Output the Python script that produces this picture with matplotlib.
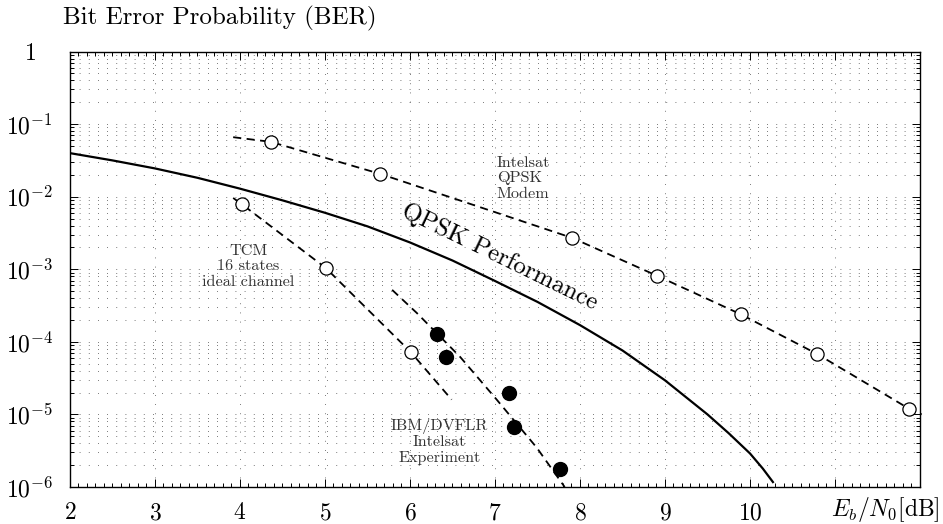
import matplotlib
matplotlib.use('Agg')
import matplotlib.pyplot as plt
from matplotlib.ticker import MultipleLocator, LogLocator, NullFormatter

plt.rcParams['font.family'] = 'cmr10'
plt.rcParams['mathtext.fontset'] = 'cm'
plt.rcParams['axes.formatter.use_mathtext'] = True
plt.rcParams['axes.unicode_minus'] = False

# QPSK performance curve
qpsk_x = [2.0, 2.5, 3.0, 3.5, 4.0, 4.5, 5.0, 5.5, 6.0, 6.5, 7.0, 7.5, 8.0, 8.5,
          9.0, 9.5, 9.75, 10.0, 10.15, 10.27]
qpsk_ber = [0.0398, 0.0316, 0.0245, 0.0182, 0.0129, 0.0089, 0.0060, 0.0039, 0.00234,
            0.00132, 6.9e-4, 3.55e-4, 1.7e-4, 7.6e-5, 2.95e-5, 1.0e-5, 5.5e-6, 2.9e-6,
            1.8e-6, 1.17e-6]

# Intelsat QPSK modem: measured points and dashed curve
modem_x = [4.36, 5.65, 7.91, 8.91, 9.89, 10.79, 11.87]
modem_ber = [0.057, 0.0206, 2.7e-3, 8.1e-4, 2.4e-4, 6.8e-5, 1.2e-5]
modem_curve_x = [3.92, 4.36, 5.65, 7.91, 8.91, 9.89, 10.79, 11.87, 12.02]
modem_curve_ber = [0.066, 0.057, 0.0206, 2.7e-3, 8.1e-4, 2.4e-4, 6.8e-5, 1.2e-5, 1.0e-5]

# TCM 16 states, ideal channel
tcm_x = [4.02, 5.01, 6.01]
tcm_ber = [7.9e-3, 1.04e-3, 7.2e-5]
tcm_curve_x = [3.92, 4.02, 5.01, 6.01, 6.49]
tcm_curve_ber = [9.6e-3, 7.9e-3, 1.04e-3, 7.2e-5, 1.6e-5]

# IBM/DVFLR Intelsat experiment
ibm_x = [6.32, 6.42, 7.16, 7.22, 7.76]
ibm_ber = [1.28e-4, 6.1e-5, 2.0e-5, 6.8e-6, 1.76e-6]
ibm_curve_x = [5.79, 6.08, 6.59, 7.02, 7.49, 7.82]
ibm_curve_ber = [5.2e-4, 2.5e-4, 6.2e-5, 1.6e-5, 3.5e-6, 1.0e-6]

xticks = [2, 3, 4, 5, 6, 7, 8, 9, 10, 11, 12]
xtick_labels = ['$2$', '$3$', '$4$', '$5$', '$6$', '$7$', '$8$', '$9$', '$10$', '', '']
yticks = [1, 1e-1, 1e-2, 1e-3, 1e-4, 1e-5, 1e-6]
ytick_labels = ['$1$', '$10^{-1}$', '$10^{-2}$', '$10^{-3}$', '$10^{-4}$', '$10^{-5}$', '$10^{-6}$']

fig = plt.figure(figsize=(9.43, 5.24), dpi=100)
ax = fig.add_axes([0.0742, 0.0706, 0.9014, 0.8311])
ax.set_yscale('log')
ax.set_xlim(2, 12)
ax.set_ylim(1e-6, 1)

dots = (0, (1, 10))
ax.grid(True, axis='y', which='both', ls=dots, lw=0.6, color='0.3')
ax.grid(True, axis='x', which='major', ls=dots, lw=0.6, color='0.3')

dash = (0, (4.5, 3))
ax.plot(qpsk_x, qpsk_ber, color='black', lw=1.6)
ax.plot(modem_curve_x, modem_curve_ber, color='black', lw=1.3, ls=dash, clip_on=False)
ax.plot(tcm_curve_x, tcm_curve_ber, color='black', lw=1.3, ls=dash)
ax.plot(ibm_curve_x, ibm_curve_ber, color='black', lw=1.3, ls=dash)
ax.plot(modem_x, modem_ber, 'o', ms=9.5, mfc='white', mec='black', mew=0.9, clip_on=False)
ax.plot(tcm_x, tcm_ber, 'o', ms=9.5, mfc='white', mec='black', mew=0.9)
ax.plot(ibm_x, ibm_ber, 'o', ms=10, mfc='black', mec='black')

ax.set_xticks(xticks, labels=xtick_labels)
ax.xaxis.set_minor_locator(MultipleLocator(0.1))
ax.set_yticks(yticks, labels=ytick_labels)
ax.yaxis.set_minor_locator(LogLocator(base=10, subs=range(2, 10), numticks=20))
ax.yaxis.set_minor_formatter(NullFormatter())
ax.tick_params(which='both', direction='in', top=True, right=True, width=0.7)
ax.tick_params(which='major', length=6)
ax.tick_params(which='minor', length=3)
ax.tick_params(axis='x', labelsize=17, pad=11)
ax.tick_params(axis='y', labelsize=17, pad=29)
for lbl in ax.get_yticklabels():
    lbl.set_horizontalalignment('center')
for s in ax.spines.values():
    s.set_linewidth(1.0)

ax.text(7.05, 1.48e-3, 'QPSK Performance', fontsize=18, rotation=-26,
        ha='center', va='center')
ax.text(7.02, 1.79e-2, 'Intelsat\nQPSK\nModem', fontsize=11.7, color='0.2',
        ha='left', va='center', linespacing=1.15)
ax.text(4.10, 1.09e-3, 'TCM\n16 states\nideal channel', fontsize=11.7, color='0.2',
        ha='center', va='center', linespacing=1.15)
ax.text(6.35, 4.2e-6, 'IBM/DVFLR\nIntelsat\nExperiment', fontsize=11.7, color='0.2',
        ha='center', va='center', linespacing=1.15)

fig.text(63 / 943, 1 - 18 / 524, 'Bit Error Probability (BER)', fontsize=18, va='center')
fig.text(940 / 943, 1 - 509 / 524, r'$E_b/N_0[\mathrm{dB}]$', fontsize=17,
         ha='right', va='center')

fig.savefig('out.png', dpi=100)
